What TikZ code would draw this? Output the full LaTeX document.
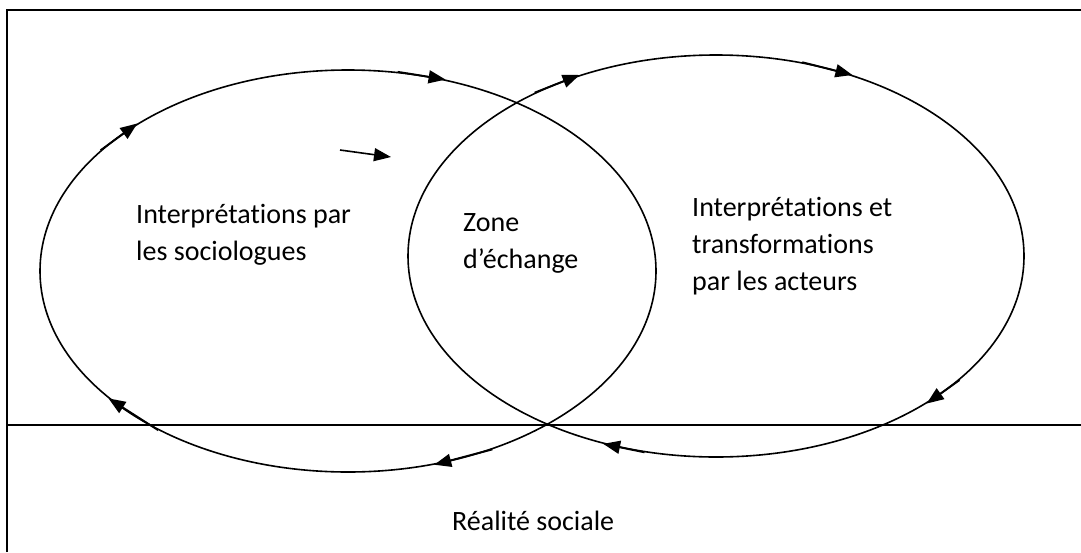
\documentclass[tikz,border=0pt]{standalone}
\usepackage{fontspec}
\setmainfont{Carlito}[Ligatures=NoCommon]
\usetikzlibrary{shapes.geometric,arrows.meta}

\tikzset{
  orbit/.style={draw, ellipse, inner sep=0pt, line width=1.6pt,
    minimum width=616pt, minimum height=402pt},
  flow/.style={-{Triangle[length=17pt,width=13pt]}, line width=1.9pt},
  txt/.style={anchor=base west, align=left, inner sep=0pt,
    font=\fontsize{28}{37}\selectfont}
}

\begin{document}
\begin{tikzpicture}[x=1pt,y=-1pt]
  \useasboundingbox (0,0) rectangle (1081,552);

  % cadre et ligne du reel
  \draw[line width=1.8pt] (7,552) -- (7,10) -- (1081,10);
  \draw[line width=1.6pt] (7,425) -- (1081,425);

  \node[orbit] (socio) at (348,271) {};
  \node[orbit] (acteurs) at (716,256) {};

  % sens de parcours des deux boucles
  \draw[flow] (socio.154) -- (socio.145);
  \draw[flow] (socio.76) -- (socio.63);
  \draw[flow] (socio.220) -- (socio.208);
  \draw[flow] (socio.309) -- (socio.294);

  \draw[flow] (acteurs.138) -- (acteurs.127);
  \draw[flow] (acteurs.66) -- (acteurs.53);
  \draw[flow] (acteurs.333) -- (acteurs.325);
  \draw[flow] (acteurs.250) -- (acteurs.239);

  \coordinate (vers) at (340,150);
  \coordinate (zone) at (391,157);
  \draw[flow, line width=1.6pt] (vers) -- (zone);

  % la base des textes est celle de la derniere ligne
  \node[txt] (sociologues) at (136,260) {Interprétations par\\les sociologues};
  \node[txt] (echange) at (463,268) {Zone\\d’échange};
  \node[txt] (interpretations) at (692,290) {Interprétations et\\transformations\\par les acteurs};
  \node[txt] (realite) at (452,530) {Réalité sociale};
\end{tikzpicture}
\end{document}
